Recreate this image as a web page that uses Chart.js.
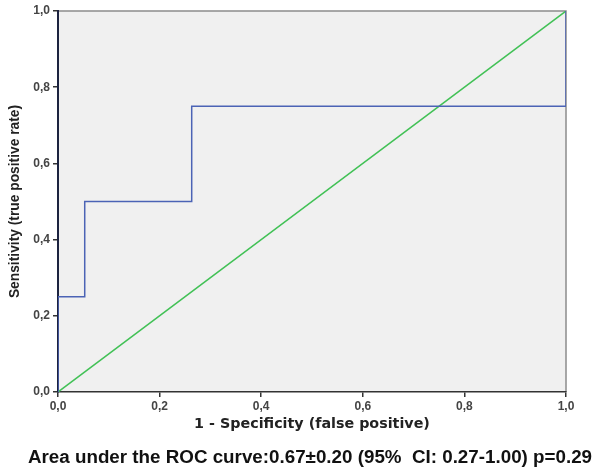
<!DOCTYPE html>
<html>
<head>
<meta charset="utf-8">
<script src="https://cdn.jsdelivr.net/npm/chart.js@4.4.1/dist/chart.umd.min.js"></script>
<style>
html,body{margin:0;padding:0;background:#fff;}
#wrap{width:600px;height:474px;}
</style>
</head>
<body>
<div id="wrap"><canvas id="c" width="600" height="474"></canvas></div>
<script>
// ROC curve (1 - specificity, sensitivity)
const rocX = [0, 0, 0.0526, 0.0526, 0.2632, 0.2632, 1, 1];
const rocY = [0, 0.25, 0.25, 0.5, 0.5, 0.75, 0.75, 1];
// reference diagonal
const diagX = [0, 1];
const diagY = [0, 1];
const tickValues = [0, 0.2, 0.4, 0.6, 0.8, 1.0];
const tickLabels = ['0,0', '0,2', '0,4', '0,6', '0,8', '1,0'];
const xTitle = '1 - Specificity (false positive)';
const yTitle = 'Sensitivity (true positive rate)';
const footText = 'Area under the ROC curve:0.67\u00b10.20 (95%  CI: 0.27-1.00) p=0.29';

const toPts = (xs, ys) => xs.map((x, i) => ({x: x, y: ys[i]}));
const labelFor = v => {
  const i = tickValues.findIndex(t => Math.abs(t - v) < 1e-6);
  return i >= 0 ? tickLabels[i] : '';
};

const bgPlugin = {
  id: 'bg',
  beforeDraw(chart) {
    const {ctx, chartArea: a} = chart;
    ctx.save();
    ctx.fillStyle = '#f0f0f0';
    ctx.fillRect(a.left, a.top, a.right - a.left, a.bottom - a.top);
    ctx.strokeStyle = '#8c8c8c';
    ctx.lineWidth = 1.5;
    ctx.beginPath();
    ctx.moveTo(a.left, a.top);
    ctx.lineTo(a.right, a.top);
    ctx.lineTo(a.right, a.bottom);
    ctx.stroke();
    ctx.restore();
  }
};

const footPlugin = {
  id: 'foot',
  afterDraw(chart) {
    const ctx = chart.ctx;
    ctx.save();
    ctx.fillStyle = '#111';
    ctx.font = 'bold 18.8px "Liberation Sans", Arial, sans-serif';
    ctx.textAlign = 'center';
    ctx.textBaseline = 'middle';
    ctx.fillText(footText, 310, 458);
    ctx.restore();
  }
};

const tickFont = {family: 'Liberation Sans, Arial', size: 12, weight: 'bold'};

new Chart(document.getElementById('c'), {
  type: 'scatter',
  data: {
    datasets: [
      {
        label: 'ROC',
        data: toPts(rocX, rocY),
        showLine: true,
        borderColor: '#4b63b5',
        borderWidth: 1.5,
        pointRadius: 0,
        fill: false,
        tension: 0
      },
      {
        label: 'Reference',
        data: toPts(diagX, diagY),
        showLine: true,
        borderColor: '#42c156',
        borderWidth: 1.5,
        pointRadius: 0,
        fill: false
      }
    ]
  },
  options: {
    responsive: false,
    animation: false,
    layout: {padding: {left: 2, right: 34, top: 11, bottom: 38}},
    plugins: {
      legend: {display: false},
      tooltip: {enabled: false},
      title: {display: false}
    },
    scales: {
      x: {
        type: 'linear',
        min: 0, max: 1,
        afterBuildTicks: s => { s.ticks = tickValues.map(v => ({value: v})); },
        afterFit: s => { s.height = 44; },
        ticks: {callback: v => labelFor(v), color: '#444', font: tickFont, padding: 2, maxRotation: 0},
        grid: {display: true, drawOnChartArea: false, drawTicks: true, tickLength: 5, color: '#333', lineWidth: 1.5},
        border: {display: true, color: '#333', width: 1.5},
        title: {display: true, text: xTitle, color: '#222', font: {family: 'DejaVu Sans', size: 14.3, weight: 'bold'}, padding: {top: 0, bottom: 3.6}}
      },
      y: {
        type: 'linear',
        min: 0, max: 1,
        afterBuildTicks: s => { s.ticks = tickValues.map(v => ({value: v})); },
        afterFit: s => { s.width = 56; },
        ticks: {callback: v => labelFor(v), color: '#444', font: tickFont, padding: 3},
        grid: {display: true, drawOnChartArea: false, drawTicks: true, tickLength: 5, color: '#333', lineWidth: 1.5},
        border: {display: true, color: '#1c2340', width: 2},
        title: {display: true, text: yTitle, color: '#222', font: {family: 'Liberation Sans, Arial', size: 13.8, weight: 'bold'}, padding: {top: 5, bottom: 0}}
      }
    }
  },
  plugins: [bgPlugin, footPlugin]
});
</script>
</body>
</html>
